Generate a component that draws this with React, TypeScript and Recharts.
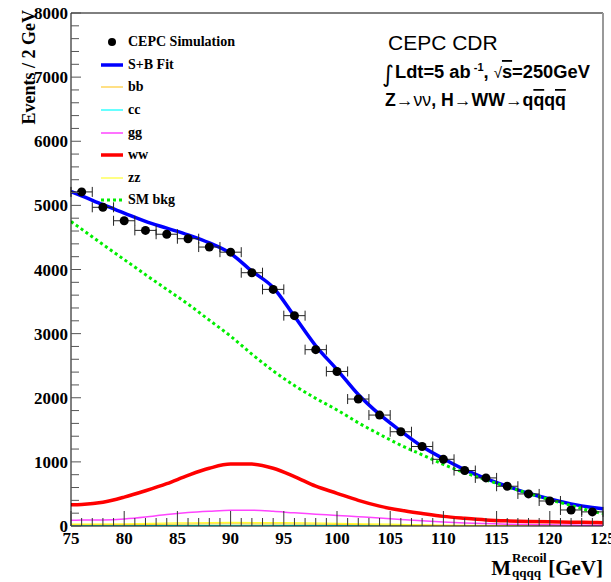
import React from "react"
import { ComposedChart, Line, Scatter, ErrorBar, XAxis, YAxis, Legend, ReferenceLine, Label } from "recharts"

// CEPC simulation points (bin centres, 2 GeV bins)
const pointMass = [76, 78, 80, 82, 84, 86, 88, 90, 92, 94, 96, 98, 100, 102, 104, 106, 108, 110, 112, 114, 116, 118, 120, 122, 124]
const pointEvents = [5210, 4970, 4760, 4610, 4550, 4480, 4350, 4270, 3950, 3690, 3280, 2750, 2410, 1980, 1730, 1470, 1240, 1040, 865, 750, 620, 500, 390, 250, 220]

// fitted curves
const curveMass = [75, 76, 78, 80, 82, 84, 86, 88, 90, 92, 94, 96, 98, 100, 102, 104, 106, 108, 110, 112, 114, 116, 118, 120, 122, 124, 125]
const fitEvents = [5216, 5150, 5010, 4880, 4750, 4645, 4540, 4415, 4250, 3975, 3720, 3270, 2810, 2440, 2050, 1740, 1480, 1240, 1050, 880, 740, 620, 510, 420, 345, 290, 270]
const smBkgEvents = [4750, 4630, 4390, 4155, 3920, 3690, 3460, 3210, 2960, 2680, 2420, 2190, 1990, 1810, 1610, 1430, 1260, 1110, 960, 830, 720, 610, 510, 410, 320, 230, 195]
const wwEvents = [330, 335, 370, 450, 550, 660, 790, 900, 965, 965, 900, 770, 620, 510, 400, 310, 245, 195, 150, 120, 95, 80, 70, 65, 60, 55, 52]
const ggEvents = [90, 92, 95, 110, 140, 180, 210, 230, 245, 245, 230, 205, 185, 165, 145, 125, 100, 80, 62, 48, 38, 28, 22, 18, 15, 12, 12]

const smallMass = [75, 80, 85, 90, 95, 100, 105, 110, 115, 120, 125]
const bbEvents = [20, 22, 30, 35, 32, 25, 15, 8, 5, 3, 2]
const ccEvents = [8, 9, 10, 12, 11, 9, 6, 4, 3, 2, 2]
const zzEvents = [30, 35, 48, 55, 52, 42, 28, 15, 8, 5, 4]

const xMajorTicks = [75, 80, 85, 90, 95, 100, 105, 110, 115, 120, 125]
const yMajorTicks = [0, 1000, 2000, 3000, 4000, 5000, 6000, 7000, 8000]
const xAllTicks = Array.from({ length: 51 }, (_, i) => 75 + i)
const yAllTicks = Array.from({ length: 41 }, (_, i) => i * 200)

const legendOrder = ["CEPC Simulation", "S+B Fit", "bb", "cc", "gg", "ww", "zz", "SM bkg"]

const serif = "'Liberation Serif', 'Times New Roman', serif"
const sans = "'Liberation Sans', Arial, sans-serif"

const toXY = (xs: number[], ys: number[]) => xs.map((x, i) => ({ x, y: ys[i] }))
const points = pointMass.map((x, i) => ({ x, y: pointEvents[i], ex: 1 }))

const swatch: Record<string, { w: number; dash?: string }> = {
  "S+B Fit": { w: 3.5 },
  bb: { w: 1.2 },
  cc: { w: 1.2 },
  gg: { w: 1.5 },
  ww: { w: 3.5 },
  zz: { w: 1.2 },
  "SM bkg": { w: 3, dash: "3 3" },
}

function LegendBox({ payload }: any) {
  const items = [...(payload ?? [])].sort((a, b) => legendOrder.indexOf(a.value) - legendOrder.indexOf(b.value))
  return (
    <div style={{ fontFamily: serif, fontWeight: "bold", fontSize: 14, color: "#000" }}>
      {items.map((entry: any) => {
        const s = swatch[entry.value]
        return (
          <div key={entry.value} style={{ display: "flex", alignItems: "center", height: 22.6 }}>
            <svg width={28} height={20} style={{ flex: "none" }}>
              {s ? (
                <line x1={1} x2={23} y1={10} y2={10} stroke={entry.color} strokeWidth={s.w} strokeDasharray={s.dash} />
              ) : (
                <circle cx={12} cy={10} r={4} fill="#000" />
              )}
            </svg>
            <span>{entry.value}</span>
          </div>
        )
      })}
    </div>
  )
}

function XTick({ x, y, payload }: any) {
  const major = xMajorTicks.includes(payload.value)
  return (
    <g>
      <line x1={x} x2={x} y1={y} y2={y - (major ? 15 : 8)} stroke="#333" />
      {major && (
        <text x={x} y={y + 18} textAnchor="middle" fontFamily={serif} fontWeight="bold" fontSize={17} fill="#000">
          {payload.value}
        </text>
      )}
    </g>
  )
}

function YTick({ x, y, payload }: any) {
  const major = yMajorTicks.includes(payload.value)
  return (
    <g>
      <line x1={x} x2={x + (major ? 10 : 8)} y1={y} y2={y} stroke="#555" />
      {major && (
        <text x={x - 3} y={y + 6} textAnchor="end" fontFamily={serif} fontWeight="bold" fontSize={17} fill="#000">
          {payload.value}
        </text>
      )}
    </g>
  )
}

function XTitle({ viewBox }: any) {
  const right = viewBox.x + viewBox.width
  return (
    <g fontFamily={serif} fontWeight="bold" fill="#000">
      <text x={right} y={575} textAnchor="end" fontSize={21}>[GeV]</text>
      <text x={right - 92} y={575} textAnchor="end" fontSize={21}>M</text>
      <text x={right - 91} y={562} fontSize={13}>Recoil</text>
      <text x={right - 91} y={577} fontSize={13}>qqqq</text>
    </g>
  )
}

function YTitle() {
  return (
    <text x={35} y={10} transform="rotate(-90, 35, 10)" textAnchor="end" fontFamily={serif} fontWeight="bold" fontSize={18} fill="#000">
      Events / 2 GeV
    </text>
  )
}

export default function App() {
  return (
    <div style={{ position: "absolute", left: 0, top: 0, width: 611, height: 582, background: "#fff" }}>
      <ComposedChart width={611} height={582} margin={{ top: 13, right: 8, bottom: 26, left: 11 }}>
        <XAxis
          type="number"
          dataKey="x"
          domain={[75, 125]}
          ticks={xAllTicks}
          interval={0}
          tick={<XTick />}
          tickLine={false}
          tickSize={0}
          tickMargin={0}
          axisLine={{ stroke: "#000" }}
          height={30}
          allowDataOverflow
        >
          <Label content={<XTitle />} />
        </XAxis>
        <YAxis
          type="number"
          domain={[0, 8000]}
          ticks={yAllTicks}
          interval={0}
          tick={<YTick />}
          tickLine={false}
          tickSize={0}
          tickMargin={0}
          axisLine={{ stroke: "#000" }}
          width={60}
          allowDataOverflow
        >
          <Label content={<YTitle />} />
        </YAxis>
        <ReferenceLine y={8000} stroke="#000" />
        <ReferenceLine x={125} stroke="#999" strokeWidth={2} />
        <Legend
          layout="vertical"
          align="center"
          verticalAlign="middle"
          content={<LegendBox />}
          wrapperStyle={{ left: 100, top: 31, width: 200 }}
        />
        <Line name="cc" data={toXY(smallMass, ccEvents)} dataKey="y" type="monotone" stroke="#00ffff" strokeWidth={1.2} dot={false} activeDot={false} isAnimationActive={false} />
        <Line name="bb" data={toXY(smallMass, bbEvents)} dataKey="y" type="monotone" stroke="#ffcc33" strokeWidth={1.2} dot={false} activeDot={false} isAnimationActive={false} />
        <Line name="zz" data={toXY(smallMass, zzEvents)} dataKey="y" type="monotone" stroke="#ffff33" strokeWidth={1.2} dot={false} activeDot={false} isAnimationActive={false} />
        <Line name="gg" data={toXY(curveMass, ggEvents)} dataKey="y" type="monotone" stroke="#ff44ff" strokeWidth={1.5} dot={false} activeDot={false} isAnimationActive={false} />
        <Line name="ww" data={toXY(curveMass, wwEvents)} dataKey="y" type="monotone" stroke="#ff0000" strokeWidth={3.5} dot={false} activeDot={false} isAnimationActive={false} />
        <Line name="S+B Fit" data={toXY(curveMass, fitEvents)} dataKey="y" type="monotone" stroke="#0000ff" strokeWidth={3.5} dot={false} activeDot={false} isAnimationActive={false} />
        <Line name="SM bkg" data={toXY(curveMass, smBkgEvents)} dataKey="y" type="monotone" stroke="#00ee00" strokeWidth={3} strokeDasharray="3 3" dot={false} activeDot={false} isAnimationActive={false} />
        <Scatter
          name="CEPC Simulation"
          data={points}
          dataKey="y"
          fill="#000"
          isAnimationActive={false}
          shape={(p: any) => <circle cx={p.cx} cy={p.cy} r={4.5} fill="#000" />}
        >
          <ErrorBar dataKey="ex" direction="x" width={5} stroke="#222" strokeWidth={1} isAnimationActive={false} />
        </Scatter>
      </ComposedChart>
      <svg width={611} height={582} style={{ position: "absolute", left: 0, top: 0, pointerEvents: "none" }}>
        <text x={388} y={50} fontFamily={sans} fontSize={21} fill="#000">CEPC CDR</text>
        <text x={382} y={82} fontFamily="'DejaVu Sans', sans-serif" fontSize={23} fill="#000">∫</text>
        <text x={395} y={78} fontFamily={sans} fontWeight="bold" fontSize={18.3} fill="#000">
          Ldt=5 ab<tspan dy={-7} fontSize={11}> -1</tspan>
          <tspan dy={7}>,  </tspan>
          <tspan fontWeight="normal" fontSize={15}>√</tspan>
          <tspan textDecoration="overline">s</tspan>=250GeV
        </text>
        <text x={385} y={106} fontFamily={sans} fontWeight="bold" fontSize={17.7} fill="#000">
          Z<tspan fontWeight="normal">→νν</tspan>, H<tspan fontWeight="normal">→</tspan>WW<tspan fontWeight="normal">→</tspan>q
          <tspan textDecoration="overline">q</tspan>q<tspan textDecoration="overline">q</tspan>
        </text>
      </svg>
    </div>
  )
}
